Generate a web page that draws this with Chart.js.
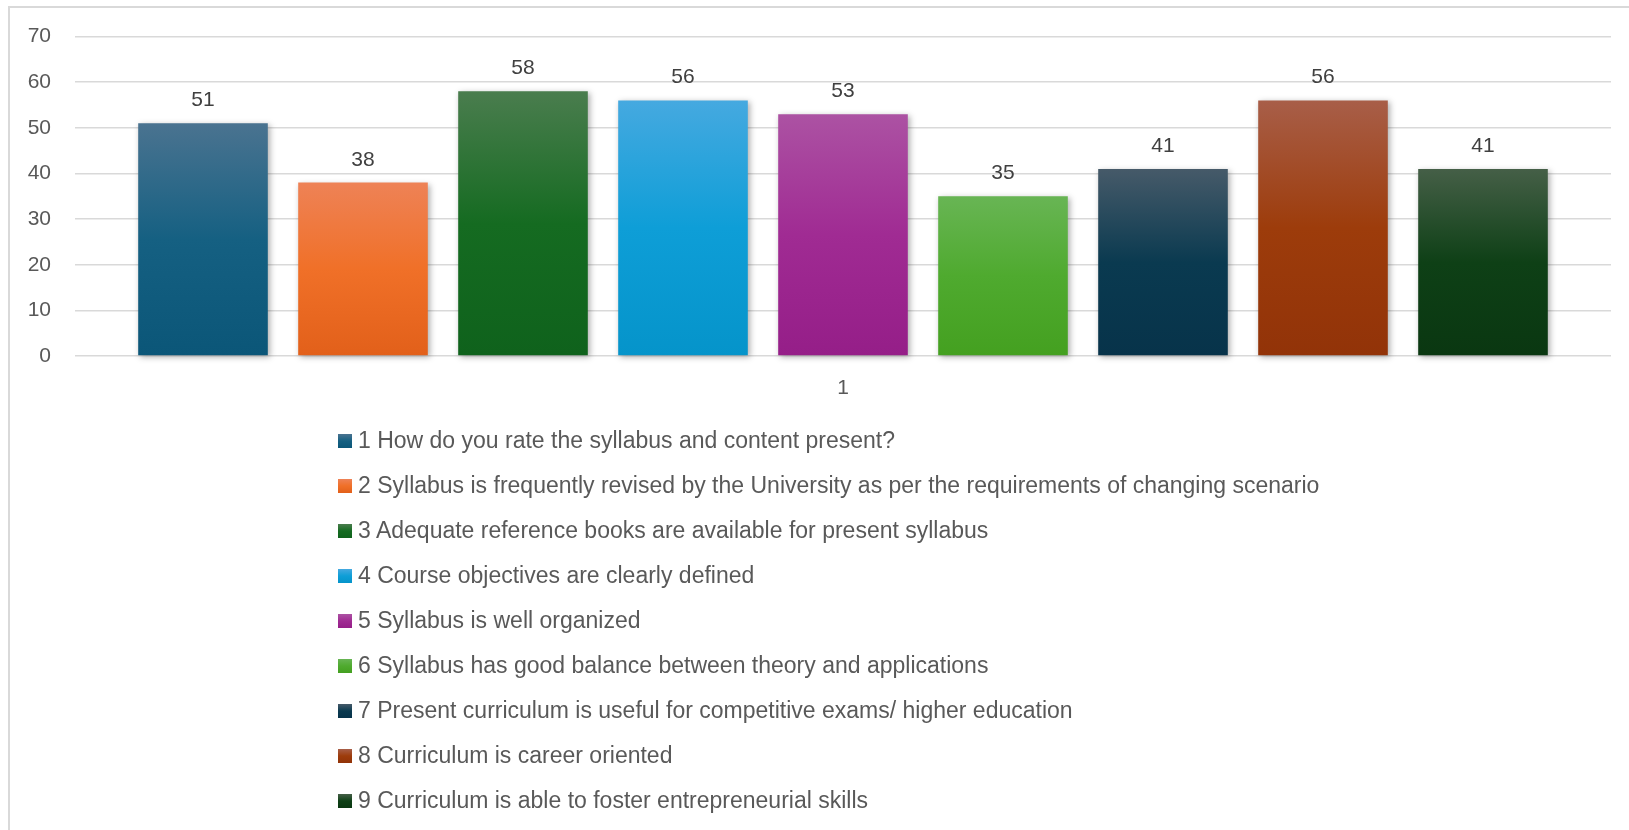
<!DOCTYPE html>
<html>
<head>
<meta charset="utf-8">
<script src="https://cdn.jsdelivr.net/npm/chart.js@4.4.1/dist/chart.umd.min.js"></script>
<style>
  html, body { margin: 0; padding: 0; background: #ffffff; overflow: hidden; }
  body { width: 1629px; height: 830px; position: relative; font-family: "Liberation Sans", Arial, sans-serif; }
  #frame { position: absolute; left: 8px; top: 6px; width: 1700px; height: 900px;
           border-top: 2px solid #d9d9d9; border-left: 2px solid #d9d9d9; box-sizing: border-box; }
  #chartCanvas { position: absolute; left: 0; top: 0; }
  #legend { position: absolute; left: 338px; top: 418px; margin: 0; padding: 0; list-style: none; }
  #legend li { height: 45px; display: flex; align-items: center; font-size: 23px; color: #595959; white-space: nowrap; }
  #legend .box { width: 14px; height: 14px; margin-right: 6px; flex: none; }
</style>
</head>
<body>
<div id="frame"></div>
<canvas id="chartCanvas" width="1629" height="420" style="width:1629px;height:420px"></canvas>
<ul id="legend"></ul>
<script>
// ---------- data ----------
const categories = ['1'];
const seriesLabels = [
  '1 How do you rate the syllabus and content present?',
  '2 Syllabus is frequently revised by the University as per the requirements of changing scenario',
  '3 Adequate reference books are available for present syllabus',
  '4 Course objectives are clearly defined',
  '5 Syllabus is well organized',
  '6 Syllabus has good balance between theory and applications',
  '7 Present curriculum is useful for competitive exams/ higher education',
  '8 Curriculum is career oriented',
  '9 Curriculum is able to foster entrepreneurial skills'
];
const seriesValues = [51, 38, 58, 56, 53, 35, 41, 56, 41];
const yTickMin = 0;
const yTickMax = 70;
const yTickStep = 10;

// ---------- styles ----------
const topColors    = ['#4A7390', '#EE8256', '#4A7D4E', '#45A9E0', '#AC52A3', '#68B554', '#465A69', '#A85E48', '#455F47'];
const midColors    = ['#156082', '#F07028', '#156B21', '#0E9ED7', '#A02B93', '#4FAA2F', '#0A3A50', '#9D3C0B', '#0E4016'];
const bottomColors = ['#0B5678', '#E2601A', '#0F621C', '#0594CA', '#951E88', '#44A020', '#07334A', '#923308', '#0A3711'];
const FONT = '"Liberation Sans", Arial, sans-serif';

Chart.defaults.font.family = FONT;

function barGradient(ctx) {
  const chart = ctx.chart;
  const i = ctx.datasetIndex;
  if (!chart.chartArea || ctx.raw === undefined) return midColors[i];
  const y = chart.scales.y;
  const yTop = y.getPixelForValue(ctx.raw);
  const yBot = y.getPixelForValue(0);
  const g = chart.ctx.createLinearGradient(0, yTop, 0, yBot);
  g.addColorStop(0, topColors[i]);
  g.addColorStop(0.5, midColors[i]);
  g.addColorStop(1, bottomColors[i]);
  return g;
}

const datasets = seriesLabels.map((label, i) => ({
  label: label,
  data: [seriesValues[i]],
  backgroundColor: barGradient,
  borderWidth: 0,
  clip: false,
  barPercentage: 0.81,
  categoryPercentage: 0.9375
}));

const shadowAndLabels = {
  id: 'shadowAndLabels',
  beforeDatasetsDraw(chart) {
    const c = chart.ctx;
    c.save();
    c.shadowColor = 'rgba(0,0,0,0.32)';
    c.shadowBlur = 6;
    c.shadowOffsetX = 2;
    c.shadowOffsetY = 2;
  },
  afterDatasetsDraw(chart) {
    const c = chart.ctx;
    c.restore();
    c.save();
    c.font = '21px ' + FONT;
    c.fillStyle = '#404040';
    c.textAlign = 'center';
    c.textBaseline = 'alphabetic';
    chart.data.datasets.forEach((ds, di) => {
      const meta = chart.getDatasetMeta(di);
      meta.data.forEach((el, j) => {
        c.fillText(String(ds.data[j]), el.x, el.y - 17);
      });
    });
    c.restore();
  }
};

const chart = new Chart(document.getElementById('chartCanvas'), {
  type: 'bar',
  data: { labels: categories, datasets: datasets },
  options: {
    responsive: false,
    animation: false,
    devicePixelRatio: 1,
    layout: { padding: { left: 0, right: 18, top: 36, bottom: 0 } },
    plugins: {
      legend: { display: false },
      tooltip: { enabled: false }
    },
    scales: {
      x: {
        grid: { display: false },
        border: { display: false },
        ticks: { color: '#595959', font: { size: 21 }, padding: 12 },
        afterFit(scale) { scale.height = 64; }
      },
      y: {
        min: yTickMin,
        max: yTickMax,
        grid: { color: '#d9d9d9', lineWidth: 1.5, drawTicks: false },
        border: { display: false },
        ticks: { stepSize: yTickStep, color: '#595959', font: { size: 21 }, padding: 24 },
        afterFit(scale) { scale.width = 75; }
      }
    }
  },
  plugins: [shadowAndLabels]
});

// ---------- HTML legend built from the chart's datasets ----------
const legendEl = document.getElementById('legend');
chart.data.datasets.forEach((ds, i) => {
  const li = document.createElement('li');
  const box = document.createElement('span');
  box.className = 'box';
  box.style.background = 'linear-gradient(to bottom, ' + topColors[i] + ' 0%, ' + midColors[i] + ' 50%, ' + bottomColors[i] + ' 100%)';
  const txt = document.createElement('span');
  txt.textContent = ds.label;
  li.appendChild(box);
  li.appendChild(txt);
  legendEl.appendChild(li);
});
</script>
</body>
</html>
